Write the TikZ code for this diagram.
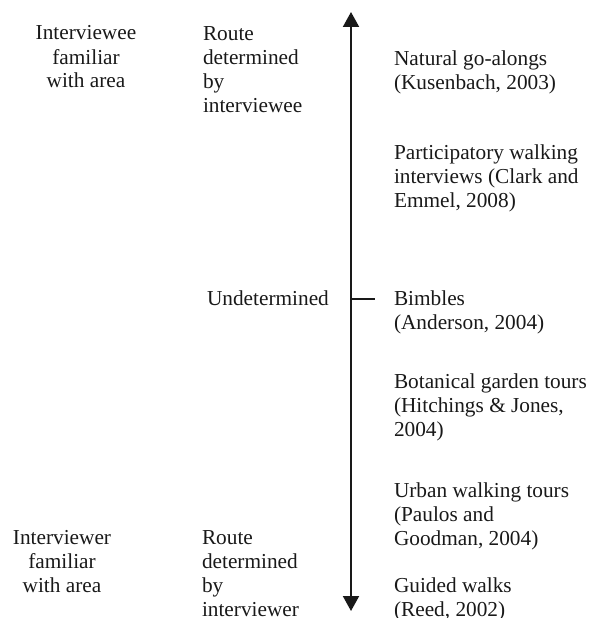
\documentclass[tikz,border=0pt]{standalone}
\usepackage{fontspec}
\setmainfont{Liberation Serif}
\usetikzlibrary{arrows.meta}
\tikzset{
  lbl/.style={inner sep=0pt, outer sep=0pt, font=\fontsize{21.3}{24}\selectfont, text=black!90},
  lblL/.style={lbl, align=left, anchor=base west},
  lblC/.style={lbl, align=center, anchor=base},
  axis/.style={line width=2pt, draw=black!90, {Triangle[length=15pt,width=16pt]}-{Triangle[length=15pt,width=16pt]}},
  tick/.style={line width=1.5pt, draw=black!90}
}
\begin{document}
\begin{tikzpicture}[x=1pt,y=-1pt]
\useasboundingbox (0,0) rectangle (595,618);
% anchors are at the baseline of each node's last line
\node[lblC] (lefttop) at (86,88) {Interviewee\\familiar\\with area};
\node[lblL] (routetop) at (203,112) {Route\\determined\\by\\interviewee};
\node[lblL] (nat) at (394,89) {Natural go-alongs\\(Kusenbach, 2003)};
\node[lblL] (part) at (394,207) {Participatory walking\\interviews (Clark and\\Emmel, 2008)};
\node[lblL] (undet) at (207,305) {Undetermined};
\node[lblL] (bimb) at (394,329) {Bimbles\\(Anderson, 2004)};
\node[lblL] (bot) at (394,436) {Botanical garden tours\\(Hitchings \& Jones,\\2004)};
\node[lblL] (urban) at (394,545) {Urban walking tours\\(Paulos and\\Goodman, 2004)};
\node[lblL] (guided) at (394,616) {Guided walks\\(Reed, 2002)};
\node[lblC] (leftbot) at (62,592) {Interviewer\\familiar\\with area};
\node[lblL] (routebot) at (202,616) {Route\\determined\\by\\interviewer};
\coordinate (atop) at (351,12);
\coordinate (abot) at (351,611);
\coordinate (tickA) at (351,299);
\coordinate (tickB) at (375,299);
\draw[axis] (abot) -- (atop);
\draw[tick] (tickA) -- (tickB);
\end{tikzpicture}
\end{document}
